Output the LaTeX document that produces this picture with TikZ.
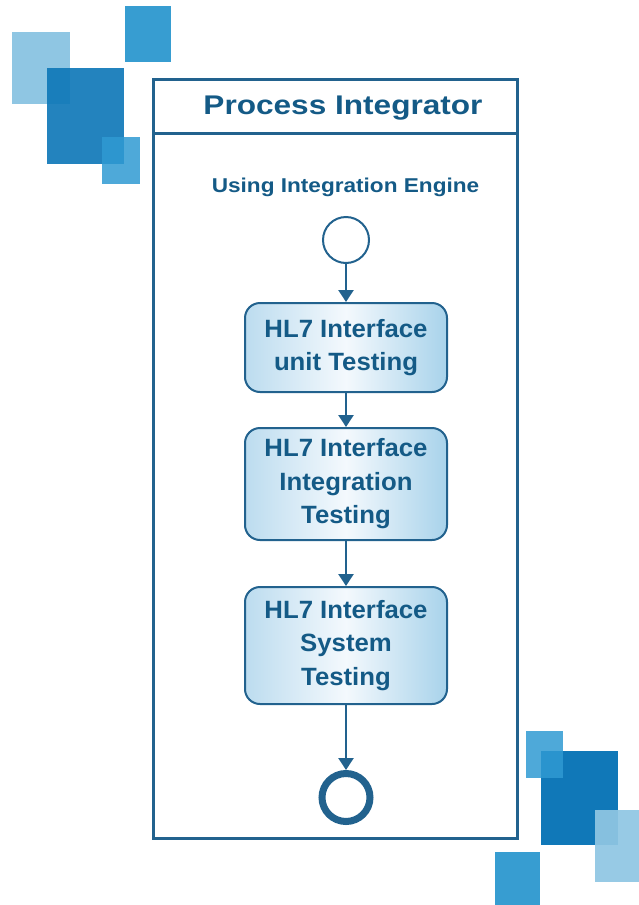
\documentclass[tikz,border=0pt]{standalone}
\usepackage{fontspec}
\usetikzlibrary{arrows.meta}
\newfontfamily\titlefont[FakeStretch=1.17]{Liberation Sans Bold}
\newfontfamily\subfont[FakeStretch=1.13]{Liberation Sans Bold}
\newfontfamily\boxfont[FakeStretch=1.03]{Liberation Sans Bold}
\definecolor{ink}{HTML}{145A86}
\definecolor{frameblue}{HTML}{22628E}
\definecolor{sqlight}{HTML}{8FC6E3}
\definecolor{sqmid}{HTML}{379DD1}
\definecolor{sqdark}{HTML}{1078B8}
\definecolor{sqsmall}{HTML}{2F9AD2}
\definecolor{boxedge}{HTML}{BCDCEF}
\definecolor{boxmid}{HTML}{F4F9FD}
\tikzset{
  stepbox/.style={draw=frameblue, line width=2pt, rounded corners=15pt,
    minimum width=202pt, align=center, text=ink,
    left color=boxedge, right color=boxedge!85!sqmid, middle color=boxmid,
    font=\boxfont\fontsize{25}{33.5}\selectfont},
  flow/.style={draw=frameblue, line width=2.5pt, -{Triangle[length=12pt,width=15pt]}},
}
\begin{document}
\begin{tikzpicture}[x=1pt,y=-1pt]
\useasboundingbox (0,0) rectangle (639,905);

% decorative squares, upper left
\fill[sqlight] (12,32) rectangle (70,104);
\fill[sqdark, opacity=0.92] (47,68) rectangle (124,164);
\fill[sqsmall, opacity=0.85] (102,137) rectangle (140,184);
\fill[sqmid] (125,6) rectangle (171,62);

% decorative squares, lower right
\fill[sqdark] (541,751) rectangle (618,845);
\fill[sqsmall, opacity=0.85] (526,731) rectangle (563,778);
\fill[sqlight, opacity=0.93] (595,810) rectangle (639,882);
\fill[sqmid] (495,852) rectangle (540,905);

% swimlane frame
\draw[frameblue, line width=3pt] (153.5,79.5) rectangle (517.5,838.5);
\draw[frameblue, line width=3pt] (153.5,133) -- (517.5,133);

\node[anchor=base, text=ink, font=\titlefont\fontsize{27}{30}\selectfont] (title) at (343,114) {Process Integrator};
\node[anchor=base, text=ink, font=\subfont\fontsize{20}{24}\selectfont] (engine) at (345.5,192) {Using Integration Engine};

% activity flow
\node[circle, draw=frameblue, line width=2pt, fill=white, minimum size=46pt, inner sep=0pt] (start) at (346,240) {};
\node[stepbox, minimum height=89pt] (unit) at (346,347.5) {HL7 Interface\\unit Testing};
\node[stepbox, minimum height=112pt] (integ) at (346,484) {HL7 Interface\\Integration\\Testing};
\node[stepbox, minimum height=117pt] (sys) at (346,645.5) {HL7 Interface\\System\\Testing};
\node[circle, draw=frameblue, line width=7pt, fill=white, minimum size=48pt, inner sep=0pt] (stop) at (346,797.5) {};

\draw[flow] (start) -- (unit);
\draw[flow] (unit) -- (integ);
\draw[flow] (integ) -- (sys);
\draw[flow] (sys) -- (stop);
\end{tikzpicture}
\end{document}
